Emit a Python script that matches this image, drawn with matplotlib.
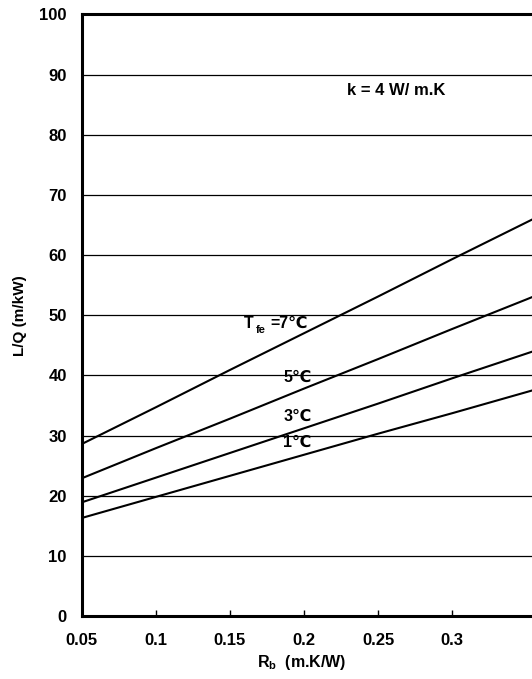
import matplotlib.pyplot as plt

plt.rcParams['font.family'] = ['Liberation Sans', 'DejaVu Sans']
plt.rcParams['font.weight'] = 'bold'
plt.rcParams['mathtext.fontset'] = 'custom'
plt.rcParams['mathtext.rm'] = 'Liberation Sans'
plt.rcParams['mathtext.bf'] = 'Liberation Sans:bold'

# borehole resistance Rb (m.K/W) and L/Q (m/kW) for each fluid temperature
rb = [0.05, 0.1, 0.15, 0.2, 0.25, 0.3, 0.35, 0.4]
lq_7 = [28.6, 34.7, 40.9, 47.0, 53.1, 59.3, 65.4, 71.5]
lq_5 = [22.9, 27.9, 32.8, 37.8, 42.7, 47.7, 52.6, 57.6]
lq_3 = [18.9, 23.0, 27.1, 31.2, 35.3, 39.5, 43.6, 47.7]
lq_1 = [16.3, 19.8, 23.3, 26.8, 30.3, 33.7, 37.2, 40.7]
xticks = [0.05, 0.1, 0.15, 0.2, 0.25, 0.3]
xticklabels = ['0.05', '0.1', '0.15', '0.2', '0.25', '0.3']

fig = plt.figure(figsize=(5.32, 6.79), dpi=100)
ax = fig.add_axes([0.154, 0.0928, 0.974, 0.886])

for s in [lq_7, lq_5, lq_3, lq_1]:
    ax.plot(rb, s, color='black', lw=1.5)

ax.set_xlim(0.05, 0.4)
ax.set_ylim(0, 100)
ax.set_yticks(range(0, 101, 10))
ax.set_xticks(xticks)
ax.set_xticklabels(xticklabels)
ax.yaxis.grid(True, color='black', lw=0.9)
ax.set_axisbelow(True)
for sp in ax.spines.values():
    sp.set_linewidth(2.2)
ax.tick_params(axis='x', direction='in', length=4, width=1, labelsize=12, pad=12)
ax.tick_params(axis='y', length=0, labelsize=12, pad=11)

ax.set_ylabel('L/Q (m/kW)', fontsize=11, fontweight='bold')
ax.yaxis.set_label_coords(-0.106, 0.5)
ax.set_xlabel(r'R$_\mathbf{b}$  (m.K/W)', fontsize=11.5, fontweight='bold')
ax.xaxis.set_label_coords(0.425, -0.061)

ax.text(0.229, 87.4, 'k = 4 W/ m.K', fontsize=12, fontweight='bold', va='center')
ax.text(0.1595, 48.6, 'T', fontsize=11.5, fontweight='bold', va='center')
ax.text(0.1675, 47.6, 'fe', fontsize=8, fontweight='bold', va='center')
ax.text(0.1775, 48.6, '=7℃', fontsize=11.5, fontweight='bold', va='center')
ax.text(0.186, 39.6, '5℃', fontsize=11.5, fontweight='bold', va='center')
ax.text(0.186, 33.2, '3℃', fontsize=11.5, fontweight='bold', va='center')
ax.text(0.186, 28.9, '1℃', fontsize=11.5, fontweight='bold', va='center')

fig.savefig('out.png', dpi=100)
